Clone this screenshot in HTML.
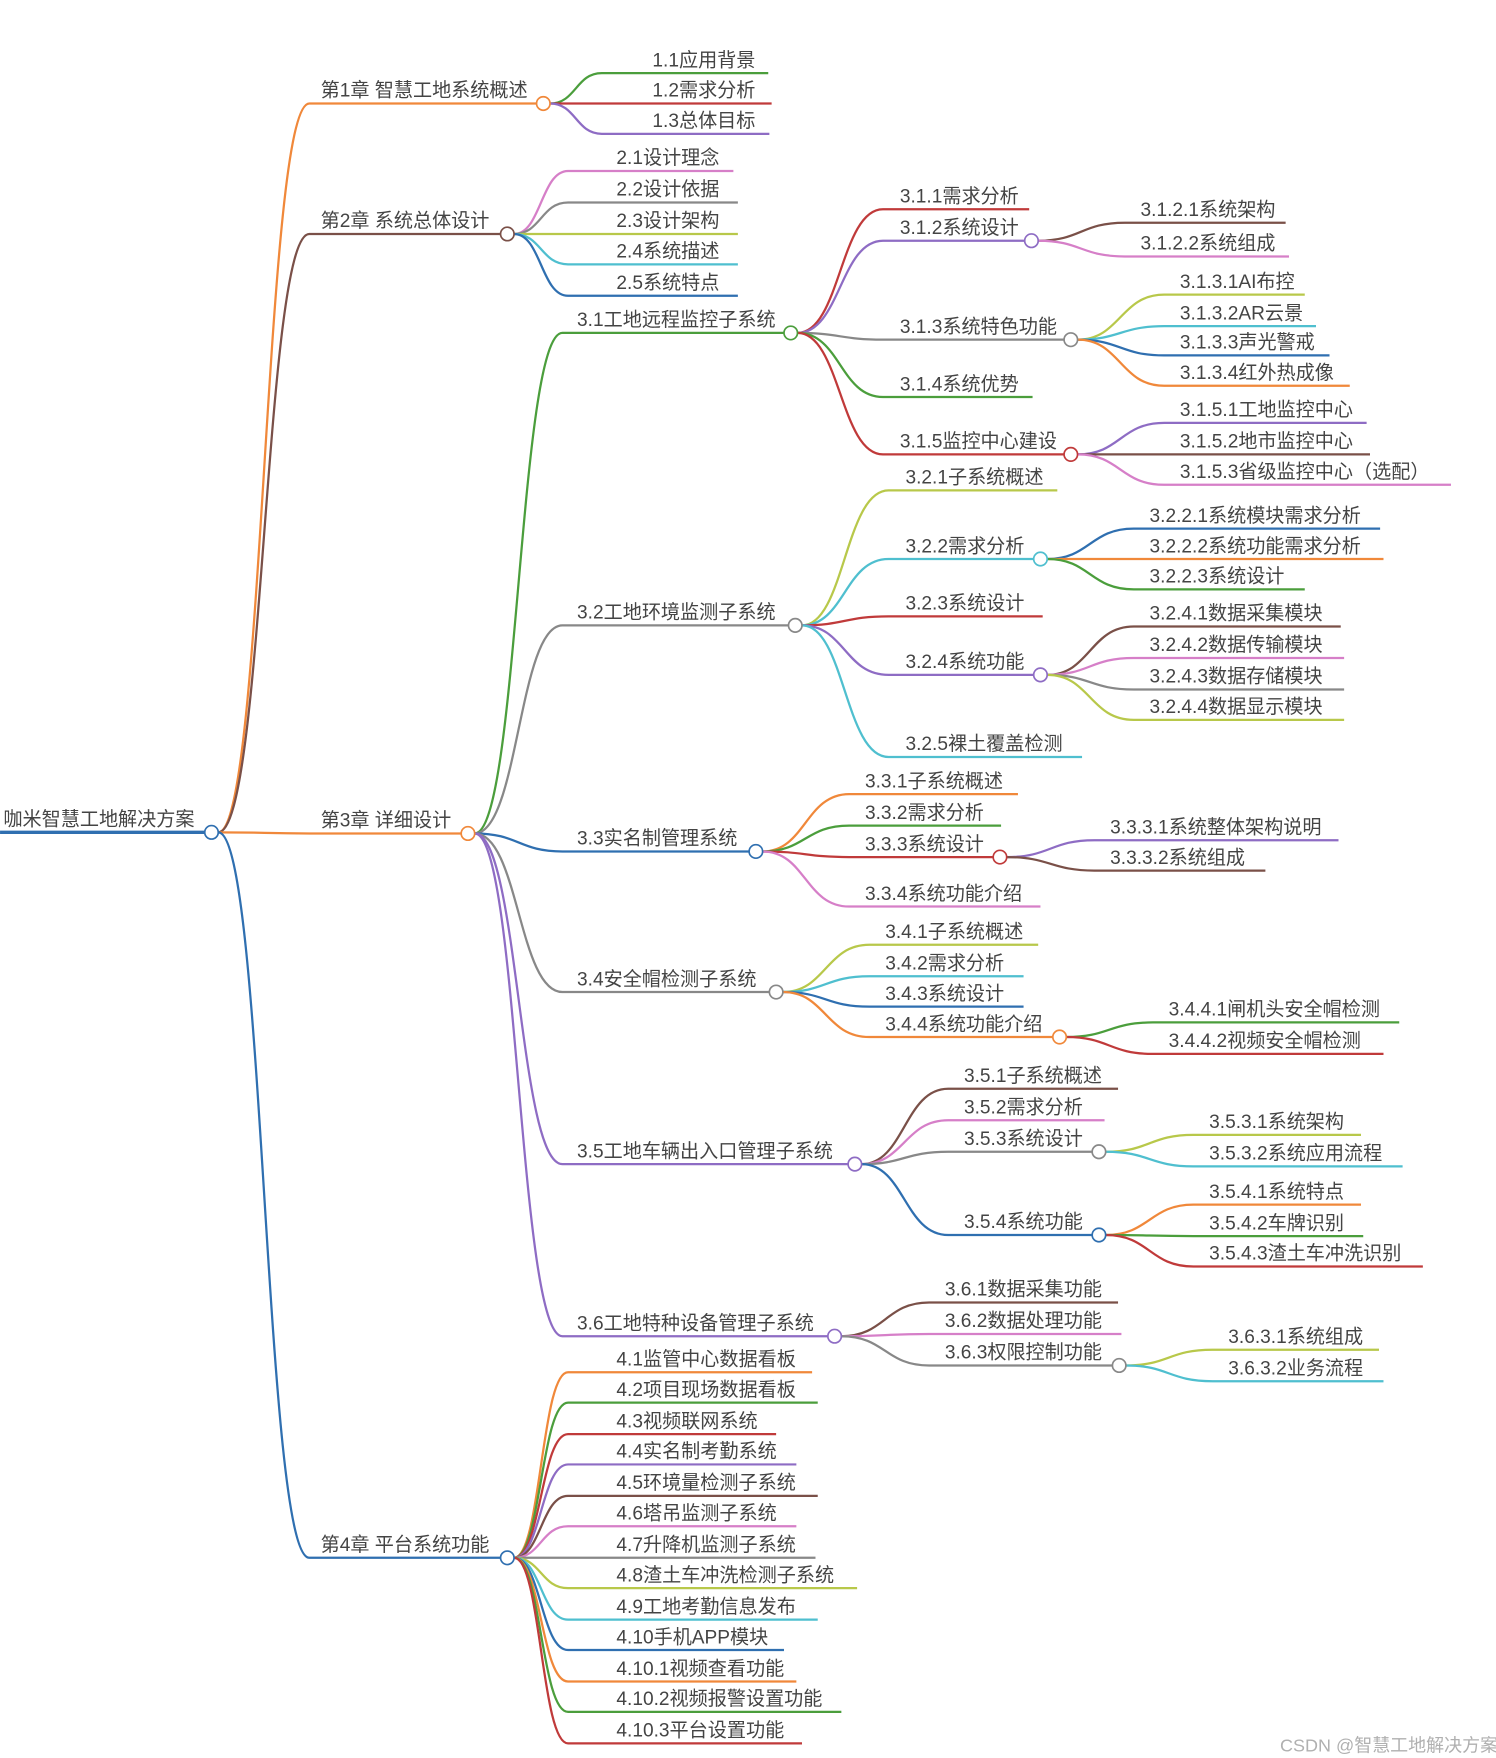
<!DOCTYPE html>
<html><head><meta charset="utf-8"><style>
html,body{margin:0;padding:0;background:#fff;}
svg{display:block;}
text{font-family:"Liberation Sans","Noto Sans CJK SC",sans-serif;font-size:17px;fill:#444;}
path{fill:none;stroke-width:2;}
circle{fill:#fff;stroke-width:1.5;}
.o{stroke:#f0883a}.g{stroke:#4b9e3c}.r{stroke:#c03a3a}.p{stroke:#8e6cc4}.b{stroke:#7a5048}.k{stroke:#d67fc8}.y{stroke:#888}.l{stroke:#b8c84a}.c{stroke:#4fbfcf}.u{stroke:#2f6fb0}
</style></head><body>
<svg width="1496" height="1758" viewBox="0 0 1330 1563" xmlns="http://www.w3.org/2000/svg">
<path class="u" d="M0 740 H182" style="stroke-width:3"/>
<text x="3" y="734">咖米智慧工地解决方案</text>
<path class="o" d="M194 740 C235 740 235 92 275 92 H477"/><text x="285" y="86">第1章 智慧工地系统概述</text>
<path class="b" d="M194 740 C235 740 235 208 275 208 H445"/><text x="285" y="202">第2章 系统总体设计</text>
<path class="o" d="M194 740 C235 740 235 741 275 741 H410"/><text x="285" y="735">第3章 详细设计</text>
<path class="u" d="M194 740 C235 740 235 1385 275 1385 H445"/><text x="285" y="1379">第4章 平台系统功能</text>
<path class="g" d="M489 92 C512 92 512 65 535 65 H683"/><text x="580" y="59">1.1应用背景</text>
<path class="r" d="M489 92 C512 92 512 92 535 92 H686"/><text x="580" y="86">1.2需求分析</text>
<path class="p" d="M489 92 C512 92 512 119 535 119 H684"/><text x="580" y="113">1.3总体目标</text>
<path class="k" d="M457 208 C481 208 481 152 505 152 H652"/><text x="548" y="146">2.1设计理念</text>
<path class="y" d="M457 208 C481 208 481 180 505 180 H656"/><text x="548" y="174">2.2设计依据</text>
<path class="l" d="M457 208 C481 208 481 208 505 208 H656"/><text x="548" y="202">2.3设计架构</text>
<path class="c" d="M457 208 C481 208 481 235 505 235 H656"/><text x="548" y="229">2.4系统描述</text>
<path class="u" d="M457 208 C481 208 481 263 505 263 H656"/><text x="548" y="257">2.5系统特点</text>
<path class="g" d="M422 741 C461 741 461 296 500 296 H697"/><text x="513" y="290">3.1工地远程监控子系统</text>
<path class="y" d="M422 741 C461 741 461 556 500 556 H701"/><text x="513" y="550">3.2工地环境监测子系统</text>
<path class="u" d="M422 741 C461 741 461 757 500 757 H666"/><text x="513" y="751">3.3实名制管理系统</text>
<path class="y" d="M422 741 C461 741 461 882 500 882 H684"/><text x="513" y="876">3.4安全帽检测子系统</text>
<path class="p" d="M422 741 C461 741 461 1035 500 1035 H754"/><text x="513" y="1029">3.5工地车辆出入口管理子系统</text>
<path class="p" d="M422 741 C461 741 461 1188 500 1188 H736"/><text x="513" y="1182">3.6工地特种设备管理子系统</text>
<path class="r" d="M709 296 C747 296 747 186 785 186 H915"/><text x="800" y="180">3.1.1需求分析</text>
<path class="p" d="M709 296 C747 296 747 214 785 214 H911"/><text x="800" y="208">3.1.2系统设计</text>
<path class="y" d="M709 296 C747 296 747 302 785 302 H946"/><text x="800" y="296">3.1.3系统特色功能</text>
<path class="g" d="M709 296 C747 296 747 353 785 353 H918"/><text x="800" y="347">3.1.4系统优势</text>
<path class="r" d="M709 296 C747 296 747 404 785 404 H946"/><text x="800" y="398">3.1.5监控中心建设</text>
<path class="b" d="M923 214 C961 214 961 198 1000 198 H1143"/><text x="1014" y="192">3.1.2.1系统架构</text>
<path class="k" d="M923 214 C961 214 961 228 1000 228 H1146"/><text x="1014" y="222">3.1.2.2系统组成</text>
<path class="l" d="M958 302 C996 302 996 262 1035 262 H1160"/><text x="1049" y="256">3.1.3.1AI布控</text>
<path class="c" d="M958 302 C996 302 996 290 1035 290 H1170"/><text x="1049" y="284">3.1.3.2AR云景</text>
<path class="u" d="M958 302 C996 302 996 316 1035 316 H1182"/><text x="1049" y="310">3.1.3.3声光警戒</text>
<path class="o" d="M958 302 C996 302 996 343 1035 343 H1200"/><text x="1049" y="337">3.1.3.4红外热成像</text>
<path class="p" d="M958 404 C996 404 996 376 1035 376 H1215"/><text x="1049" y="370">3.1.5.1工地监控中心</text>
<path class="b" d="M958 404 C996 404 996 404 1035 404 H1218"/><text x="1049" y="398">3.1.5.2地市监控中心</text>
<path class="k" d="M958 404 C996 404 996 431 1035 431 H1290"/><text x="1049" y="425">3.1.5.3省级监控中心（选配）</text>
<path class="l" d="M713 556 C751 556 751 436 790 436 H940"/><text x="805" y="430">3.2.1子系统概述</text>
<path class="c" d="M713 556 C751 556 751 497 790 497 H919"/><text x="805" y="491">3.2.2需求分析</text>
<path class="r" d="M713 556 C751 556 751 548 790 548 H927"/><text x="805" y="542">3.2.3系统设计</text>
<path class="p" d="M713 556 C751 556 751 600 790 600 H919"/><text x="805" y="594">3.2.4系统功能</text>
<path class="c" d="M713 556 C751 556 751 673 790 673 H962"/><text x="805" y="667">3.2.5裸土覆盖检测</text>
<path class="u" d="M931 497 C969 497 969 470 1008 470 H1227"/><text x="1022" y="464">3.2.2.1系统模块需求分析</text>
<path class="o" d="M931 497 C969 497 969 497 1008 497 H1230"/><text x="1022" y="491">3.2.2.2系统功能需求分析</text>
<path class="g" d="M931 497 C969 497 969 524 1008 524 H1160"/><text x="1022" y="518">3.2.2.3系统设计</text>
<path class="b" d="M931 600 C969 600 969 557 1008 557 H1192"/><text x="1022" y="551">3.2.4.1数据采集模块</text>
<path class="k" d="M931 600 C969 600 969 585 1008 585 H1195"/><text x="1022" y="579">3.2.4.2数据传输模块</text>
<path class="y" d="M931 600 C969 600 969 613 1008 613 H1195"/><text x="1022" y="607">3.2.4.3数据存储模块</text>
<path class="l" d="M931 600 C969 600 969 640 1008 640 H1195"/><text x="1022" y="634">3.2.4.4数据显示模块</text>
<path class="o" d="M678 757 C716 757 716 706 755 706 H905"/><text x="769" y="700">3.3.1子系统概述</text>
<path class="g" d="M678 757 C716 757 716 734 755 734 H890"/><text x="769" y="728">3.3.2需求分析</text>
<path class="r" d="M678 757 C716 757 716 762 755 762 H883"/><text x="769" y="756">3.3.3系统设计</text>
<path class="k" d="M678 757 C716 757 716 806 755 806 H925"/><text x="769" y="800">3.3.4系统功能介绍</text>
<path class="p" d="M895 762 C934 762 934 747 973 747 H1190"/><text x="987" y="741">3.3.3.1系统整体架构说明</text>
<path class="b" d="M895 762 C934 762 934 774 973 774 H1125"/><text x="987" y="768">3.3.3.2系统组成</text>
<path class="l" d="M696 882 C734 882 734 840 773 840 H923"/><text x="787" y="834">3.4.1子系统概述</text>
<path class="c" d="M696 882 C734 882 734 868 773 868 H910"/><text x="787" y="862">3.4.2需求分析</text>
<path class="u" d="M696 882 C734 882 734 895 773 895 H910"/><text x="787" y="889">3.4.3系统设计</text>
<path class="o" d="M696 882 C734 882 734 922 773 922 H936"/><text x="787" y="916">3.4.4系统功能介绍</text>
<path class="g" d="M948 922 C986 922 986 909 1025 909 H1244"/><text x="1039" y="903">3.4.4.1闸机头安全帽检测</text>
<path class="r" d="M948 922 C986 922 986 937 1025 937 H1230"/><text x="1039" y="931">3.4.4.2视频安全帽检测</text>
<path class="b" d="M766 1035 C804 1035 804 968 843 968 H994"/><text x="857" y="962">3.5.1子系统概述</text>
<path class="k" d="M766 1035 C804 1035 804 996 843 996 H982"/><text x="857" y="990">3.5.2需求分析</text>
<path class="y" d="M766 1035 C804 1035 804 1024 843 1024 H971"/><text x="857" y="1018">3.5.3系统设计</text>
<path class="u" d="M766 1035 C804 1035 804 1098 843 1098 H971"/><text x="857" y="1092">3.5.4系统功能</text>
<path class="l" d="M983 1024 C1022 1024 1022 1009 1061 1009 H1210"/><text x="1075" y="1003">3.5.3.1系统架构</text>
<path class="c" d="M983 1024 C1022 1024 1022 1037 1061 1037 H1247"/><text x="1075" y="1031">3.5.3.2系统应用流程</text>
<path class="o" d="M983 1098 C1022 1098 1022 1071 1061 1071 H1210"/><text x="1075" y="1065">3.5.4.1系统特点</text>
<path class="g" d="M983 1098 C1022 1098 1022 1099 1061 1099 H1212"/><text x="1075" y="1093">3.5.4.2车牌识别</text>
<path class="r" d="M983 1098 C1022 1098 1022 1126 1061 1126 H1265"/><text x="1075" y="1120">3.5.4.3渣土车冲洗识别</text>
<path class="b" d="M748 1188 C787 1188 787 1158 826 1158 H994"/><text x="840" y="1152">3.6.1数据采集功能</text>
<path class="k" d="M748 1188 C787 1188 787 1186 826 1186 H997"/><text x="840" y="1180">3.6.2数据处理功能</text>
<path class="y" d="M748 1188 C787 1188 787 1214 826 1214 H989"/><text x="840" y="1208">3.6.3权限控制功能</text>
<path class="l" d="M1001 1214 C1039 1214 1039 1200 1078 1200 H1226"/><text x="1092" y="1194">3.6.3.1系统组成</text>
<path class="c" d="M1001 1214 C1039 1214 1039 1228 1078 1228 H1230"/><text x="1092" y="1222">3.6.3.2业务流程</text>
<path class="o" d="M457 1385 C481 1385 481 1220 505 1220 H722"/><text x="548" y="1214">4.1监管中心数据看板</text>
<path class="g" d="M457 1385 C481 1385 481 1247 505 1247 H727"/><text x="548" y="1241">4.2项目现场数据看板</text>
<path class="r" d="M457 1385 C481 1385 481 1275 505 1275 H690"/><text x="548" y="1269">4.3视频联网系统</text>
<path class="p" d="M457 1385 C481 1385 481 1302 505 1302 H708"/><text x="548" y="1296">4.4实名制考勤系统</text>
<path class="b" d="M457 1385 C481 1385 481 1330 505 1330 H727"/><text x="548" y="1324">4.5环境量检测子系统</text>
<path class="k" d="M457 1385 C481 1385 481 1357 505 1357 H708"/><text x="548" y="1351">4.6塔吊监测子系统</text>
<path class="y" d="M457 1385 C481 1385 481 1385 505 1385 H725"/><text x="548" y="1379">4.7升降机监测子系统</text>
<path class="l" d="M457 1385 C481 1385 481 1412 505 1412 H762"/><text x="548" y="1406">4.8渣土车冲洗检测子系统</text>
<path class="c" d="M457 1385 C481 1385 481 1440 505 1440 H727"/><text x="548" y="1434">4.9工地考勤信息发布</text>
<path class="u" d="M457 1385 C481 1385 481 1467 505 1467 H697"/><text x="548" y="1461">4.10手机APP模块</text>
<path class="o" d="M457 1385 C481 1385 481 1495 505 1495 H708"/><text x="548" y="1489">4.10.1视频查看功能</text>
<path class="g" d="M457 1385 C481 1385 481 1522 505 1522 H748"/><text x="548" y="1516">4.10.2视频报警设置功能</text>
<path class="r" d="M457 1385 C481 1385 481 1550 505 1550 H713"/><text x="548" y="1544">4.10.3平台设置功能</text>
<circle class="u" cx="188" cy="740" r="6"/>
<circle class="o" cx="483" cy="92" r="6"/>
<circle class="b" cx="451" cy="208" r="6"/>
<circle class="o" cx="416" cy="741" r="6"/>
<circle class="u" cx="451" cy="1385" r="6"/>
<circle class="g" cx="703" cy="296" r="6"/>
<circle class="y" cx="707" cy="556" r="6"/>
<circle class="u" cx="672" cy="757" r="6"/>
<circle class="y" cx="690" cy="882" r="6"/>
<circle class="p" cx="760" cy="1035" r="6"/>
<circle class="p" cx="742" cy="1188" r="6"/>
<circle class="p" cx="917" cy="214" r="6"/>
<circle class="y" cx="952" cy="302" r="6"/>
<circle class="r" cx="952" cy="404" r="6"/>
<circle class="c" cx="925" cy="497" r="6"/>
<circle class="p" cx="925" cy="600" r="6"/>
<circle class="r" cx="889" cy="762" r="6"/>
<circle class="o" cx="942" cy="922" r="6"/>
<circle class="y" cx="977" cy="1024" r="6"/>
<circle class="u" cx="977" cy="1098" r="6"/>
<circle class="y" cx="995" cy="1214" r="6"/>
<text x="1138" y="1557" style="fill:#b0b0b0;font-size:16px">CSDN @智慧工地解决方案</text>
</svg>
</body></html>
